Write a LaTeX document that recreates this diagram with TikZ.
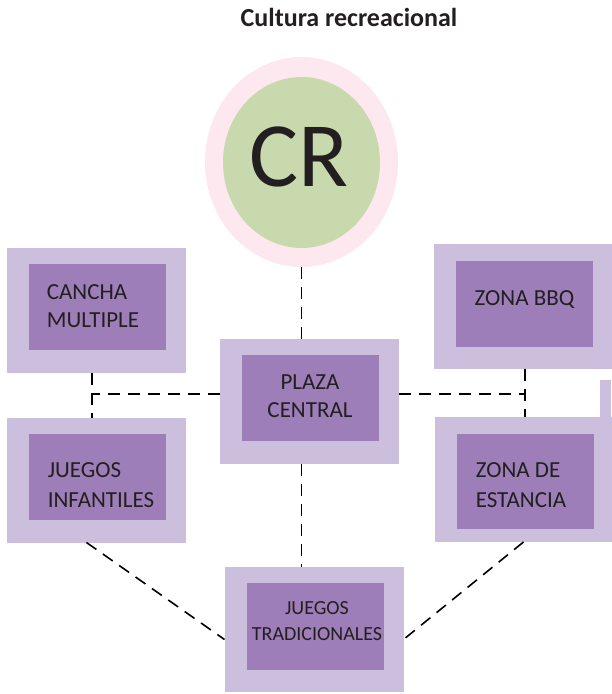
\documentclass[tikz,border=0pt]{standalone}
\usepackage{fontspec}
\setmainfont{Carlito}
\usetikzlibrary{positioning,calc,shapes.geometric}
\definecolor{lila}{RGB}{204,190,221}
\definecolor{morado}{RGB}{157,126,184}
\definecolor{rosa}{RGB}{252,232,238}
\definecolor{verde}{RGB}{201,217,174}
\definecolor{tinta}{RGB}{35,31,32}
\begin{document}
\begin{tikzpicture}[x=1pt,y=-1pt,
      outer/.style={fill=lila,inner sep=0pt,outer sep=0pt,minimum width=179pt,minimum height=125pt},
      inner/.style={fill=morado,inner sep=0pt,minimum width=137pt,minimum height=86pt},
      rotulo/.style={inner sep=0pt,align=left,text=tinta,font=\fontsize{23}{28}\selectfont},
      enlace/.style={draw=black,line width=1.6pt,dash pattern=on 12pt off 8pt}]
      \useasboundingbox (0,0) rectangle (611,694);
      \node[font=\fontsize{26}{30}\selectfont\bfseries,text=tinta] (title) at (349,17) {Cultura recreacional};
      % circulo CR
      \node[ellipse,fill=rosa,minimum width=193pt,minimum height=210pt,inner sep=0pt] (cro) at (301.5,162) {};
      \node[ellipse,fill=verde,minimum width=157pt,minimum height=171pt,inner sep=0pt] (cr) at (301.5,162.5) {};
      \node[inner sep=0pt,text=tinta,font=\fontsize{92}{92}\selectfont] (crtext) at (299,157) {CR};
      % cajas
      \fill[lila] (600,380) rectangle (611,417);
      \node[outer] (cancha) at (96.5,310.5) {};
      \node[inner] (canchain) at (97.5,307) {};
      \node[rotulo] at (93,306) {CANCHA\\MULTIPLE};
      \node[outer] (jinf) at (96.5,480) {};
      \node[inner] (jinfin) at (97.5,476.5) {};
      \node[rotulo,font=\fontsize{23}{30}\selectfont] at (101,485) {JUEGOS\\INFANTILES};
      \node[outer] (plaza) at (309,401.5) {};
      \node[inner] (plazain) at (310,398) {};
      \node[rotulo,align=center] at (310,396) {PLAZA\\CENTRAL};
      \node[outer] (bbq) at (523.5,306) {};
      \node[inner] (bbqin) at (524.5,304) {};
      \node[rotulo] at (524.5,300) {ZONA BBQ};
      \node[outer] (estancia) at (524.5,479.5) {};
      \node[inner,minimum height=95pt] (estanciain) at (525.5,481.5) {};
      \node[rotulo,font=\fontsize{23}{30}\selectfont] at (521,485) {ZONA DE\\ESTANCIA};
      \node[outer] (jtrad) at (314,629.5) {};
      \node[inner,minimum height=87pt] (jtradin) at (315.5,626.5) {};
      \node[rotulo,align=center,font=\fontsize{20}{26}\selectfont] at (317,621) {JUEGOS\\TRADICIONALES};
      % enlaces
      \coordinate (jl) at (92,394);
      \coordinate (jr) at (525,394);
      \draw[enlace] (cro.south) -- (plaza.north -| cro.south);
      \draw[enlace] (plaza.west |- jl) -- (jl);
      \draw[enlace] (cancha.south -| jl) -- (jinf.north -| jl);
      \draw[enlace] (plaza.east |- jr) -- (jr);
      \draw[enlace] (bbq.south -| jr) -- (estancia.north -| jr);
      \draw[enlace] (plaza.south -| cro.south) -- (jtrad.north -| cro.south);
      \draw[enlace] ([xshift=-10pt]jinf.south) -- ([yshift=-10pt]jtrad.west);
      \draw[enlace] ([xshift=-1pt]estancia.south) -- ([yshift=-10pt]jtrad.east);
\end{tikzpicture}
\end{document}
